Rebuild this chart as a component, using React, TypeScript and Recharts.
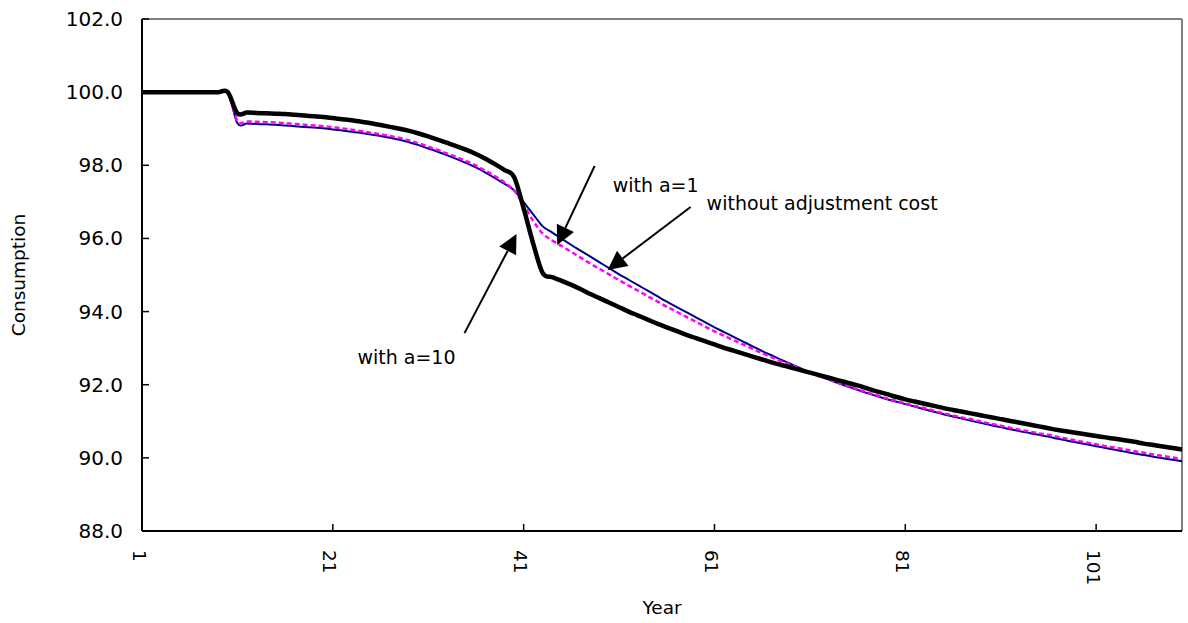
import React from 'react'
import { LineChart, Line, XAxis, YAxis, ReferenceLine } from 'recharts'

// consumption paths, one value per year (1..110)
const withA10 = [
  100.0, 100.0, 100.0, 100.0, 100.0, 100.0, 100.0, 100.0, 100.0, 100.0,
  99.42, 99.44, 99.43, 99.42, 99.41, 99.4, 99.38, 99.36, 99.34, 99.32,
  99.29, 99.26, 99.23, 99.19, 99.15, 99.1, 99.05, 99.0, 98.94, 98.87,
  98.79, 98.7, 98.61, 98.52, 98.42, 98.31, 98.18, 98.03, 97.87, 97.68,
  96.82, 95.86, 95.05, 94.94, 94.84, 94.73, 94.61, 94.48, 94.36, 94.24,
  94.12, 94.0, 93.89, 93.78, 93.67, 93.57, 93.47, 93.37, 93.28, 93.19,
  93.1, 93.01, 92.93, 92.85, 92.77, 92.69, 92.61, 92.54, 92.47, 92.4,
  92.33, 92.26, 92.19, 92.12, 92.05, 91.98, 91.9, 91.82, 91.75, 91.67,
  91.6, 91.54, 91.48, 91.42, 91.36, 91.31, 91.26, 91.21, 91.16, 91.11,
  91.06, 91.01, 90.96, 90.91, 90.86, 90.81, 90.76, 90.72, 90.68, 90.64,
  90.6, 90.56, 90.52, 90.48, 90.44, 90.39, 90.35, 90.31, 90.27, 90.23,
]

const withA1 = [
  100.0, 100.0, 100.0, 100.0, 100.0, 100.0, 100.0, 100.0, 100.0, 100.0,
  99.21, 99.2, 99.19, 99.18, 99.17, 99.15, 99.13, 99.11, 99.09, 99.07,
  99.04, 99.01, 98.97, 98.93, 98.89, 98.85, 98.8, 98.75, 98.68, 98.6,
  98.51, 98.42, 98.32, 98.22, 98.11, 97.99, 97.85, 97.7, 97.53, 97.31,
  96.92, 96.48, 96.13, 95.94, 95.79, 95.63, 95.47, 95.31, 95.16, 95.01,
  94.86, 94.71, 94.57, 94.42, 94.28, 94.13, 94.0, 93.86, 93.73, 93.59,
  93.46, 93.34, 93.22, 93.1, 92.98, 92.86, 92.75, 92.64, 92.54, 92.43,
  92.33, 92.24, 92.14, 92.05, 91.96, 91.87, 91.79, 91.71, 91.63, 91.56,
  91.49, 91.42, 91.36, 91.29, 91.22, 91.16, 91.1, 91.05, 90.99, 90.93,
  90.88, 90.82, 90.77, 90.72, 90.67, 90.63, 90.57, 90.52, 90.47, 90.42,
  90.37, 90.32, 90.28, 90.23, 90.18, 90.14, 90.09, 90.05, 90.01, 89.97,
]

const withoutCost = [
  100.0, 100.0, 100.0, 100.0, 100.0, 100.0, 100.0, 100.0, 100.0, 100.0,
  99.15, 99.14, 99.13, 99.12, 99.11, 99.09, 99.07, 99.05, 99.03, 99.01,
  98.98, 98.95, 98.92, 98.88, 98.84, 98.8, 98.75, 98.7, 98.63, 98.55,
  98.46, 98.37, 98.27, 98.17, 98.06, 97.94, 97.8, 97.65, 97.49, 97.32,
  96.99, 96.66, 96.33, 96.16, 95.99, 95.82, 95.66, 95.5, 95.34, 95.18,
  95.02, 94.87, 94.72, 94.57, 94.42, 94.27, 94.13, 93.99, 93.85, 93.71,
  93.57, 93.44, 93.31, 93.18, 93.05, 92.92, 92.8, 92.68, 92.57, 92.45,
  92.34, 92.24, 92.14, 92.04, 91.95, 91.86, 91.77, 91.69, 91.61, 91.54,
  91.47, 91.4, 91.33, 91.26, 91.19, 91.13, 91.07, 91.01, 90.95, 90.89,
  90.84, 90.78, 90.73, 90.68, 90.63, 90.58, 90.52, 90.47, 90.42, 90.37,
  90.32, 90.27, 90.22, 90.17, 90.12, 90.08, 90.03, 89.99, 89.95, 89.91,
]

const years = withA10.map((_, i) => i + 1)
const xTicks = [1, 21, 41, 61, 81, 101]
const yTicks = [88, 90, 92, 94, 96, 98, 100, 102]

// arrow annotations, given in chart units (year, consumption)
const notes = [
  { text: 'with a=1', from: [48.44, 97.98], to: [44.52, 95.82], dx: 18, dy: 19, anchor: 'start' },
  { text: 'without adjustment cost', from: [58.5, 96.86], to: [49.8, 95.14], dx: 16, dy: -4, anchor: 'start' },
  { text: 'with a=10', from: [34.8, 93.41], to: [40.25, 96.12], dx: -9, dy: 24, anchor: 'end' },
]

const data = years.map((year, i) => ({
  year,
  noCost: withoutCost[i],
  a1: withA1[i],
  a10: withA10[i],
}))

const font = { fontFamily: '"DejaVu Sans", Verdana, sans-serif', fill: '#000' }

// Excel-style smoothed line (Catmull-Rom through every point)
const excelSmooth = (context: any) => {
  let pts: number[][] = []
  return {
    areaStart() {},
    areaEnd() {},
    lineStart() {
      pts = []
    },
    point(x: number, y: number) {
      pts.push([+x, +y])
    },
    lineEnd() {
      const n = pts.length
      if (!n) return
      context.moveTo(pts[0][0], pts[0][1])
      for (let i = 0; i < n - 1; i++) {
        const p0 = pts[Math.max(i - 1, 0)]
        const p1 = pts[i]
        const p2 = pts[i + 1]
        const p3 = pts[Math.min(i + 2, n - 1)]
        context.bezierCurveTo(
          p1[0] + (p2[0] - p0[0]) / 6,
          p1[1] + (p2[1] - p0[1]) / 6,
          p2[0] - (p3[0] - p1[0]) / 6,
          p2[1] - (p3[1] - p1[1]) / 6,
          p2[0],
          p2[1],
        )
      }
    },
  }
}

const YTick = ({ x, y, payload }: any) => (
  <g>
    <line x1={x + 19} x2={x + 26} y1={y} y2={y} stroke="#000" strokeWidth={1.5} />
    <text x={x} y={y} textAnchor="end" dominantBaseline="central" fontSize={20} style={font}>
      {Number(payload.value).toFixed(1)}
    </text>
  </g>
)

const XTick = ({ x, y, payload }: any) => (
  <g>
    <line x1={x} x2={x} y1={y - 19} y2={y - 26} stroke="#000" strokeWidth={1.5} />
    <text
      x={x - 3}
      y={y}
      transform={`rotate(90 ${x - 3} ${y})`}
      textAnchor="start"
      dominantBaseline="central"
      fontSize={18.5}
      style={font}
    >
      {payload.value}
    </text>
  </g>
)

const YTitle = ({ viewBox }: any) => {
  const cx = viewBox.x + 18
  const cy = viewBox.y + viewBox.height / 2
  return (
    <text x={cx} y={cy} transform={`rotate(-90 ${cx} ${cy})`} textAnchor="middle" dominantBaseline="central" fontSize={18.5} style={font}>
      Consumption
    </text>
  )
}

const XTitle = ({ viewBox }: any) => (
  <text x={viewBox.x + viewBox.width / 2} y={viewBox.y + 76} textAnchor="middle" dominantBaseline="central" fontSize={18.5} style={font}>
    Year
  </text>
)

const arrowShape = (note: any) => (p: any) => {
  const { x1, y1, x2, y2 } = p
  const ang = Math.atan2(y2 - y1, x2 - x1)
  const len = 19
  const half = 9.5
  const bx = x2 - len * Math.cos(ang)
  const by = y2 - len * Math.sin(ang)
  const px = -Math.sin(ang) * half
  const py = Math.cos(ang) * half
  return (
    <g>
      <line x1={x1} y1={y1} x2={bx} y2={by} stroke="#000" strokeWidth={2} />
      <polygon points={`${x2},${y2} ${bx + px},${by + py} ${bx - px},${by - py}`} fill="#000" />
      <text x={x1 + note.dx} y={y1 + note.dy} textAnchor={note.anchor} dominantBaseline="central" fontSize={19} style={font}>
        {note.text}
      </text>
    </g>
  )
}

const App = () => {
  return (
    <div style={{ position: 'absolute', left: 0, top: 0, background: '#fff' }}>
      <LineChart width={1188} height={623} data={data} margin={{ top: 19, right: 6, bottom: 0, left: 0 }}>
        <XAxis
          dataKey="year"
          type="number"
          domain={[1, 110]}
          ticks={xTicks}
          interval={0}
          height={92}
          tickSize={0}
          tickLine={false}
          tickMargin={19}
          tick={<XTick />}
          axisLine={{ stroke: '#000', strokeWidth: 2 }}
          label={<XTitle />}
        />
        <YAxis
          domain={[88, 102]}
          ticks={yTicks}
          interval={0}
          width={142}
          tickSize={0}
          tickLine={false}
          tickMargin={19}
          tick={<YTick />}
          axisLine={{ stroke: '#000', strokeWidth: 2 }}
          label={<YTitle />}
        />
        <ReferenceLine y={102} stroke="#808080" strokeWidth={2} ifOverflow="visible" />
        <ReferenceLine x={110} stroke="#808080" strokeWidth={2} ifOverflow="visible" />
        <Line type={excelSmooth as any} dataKey="noCost" stroke="#000080" strokeWidth={2} dot={false} activeDot={false} isAnimationActive={false} />
        <Line type={excelSmooth as any} dataKey="a1" stroke="#FF00FF" strokeWidth={2.5} strokeDasharray="5 3" dot={false} activeDot={false} isAnimationActive={false} />
        <Line type={excelSmooth as any} dataKey="a10" stroke="#000" strokeWidth={4.5} dot={false} activeDot={false} isAnimationActive={false} />
        {notes.map((n) => (
          <ReferenceLine
            key={n.text}
            segment={[{ x: n.from[0], y: n.from[1] }, { x: n.to[0], y: n.to[1] }]}
            ifOverflow="visible"
            shape={arrowShape(n)}
          />
        ))}
      </LineChart>
    </div>
  )
}

export default App
